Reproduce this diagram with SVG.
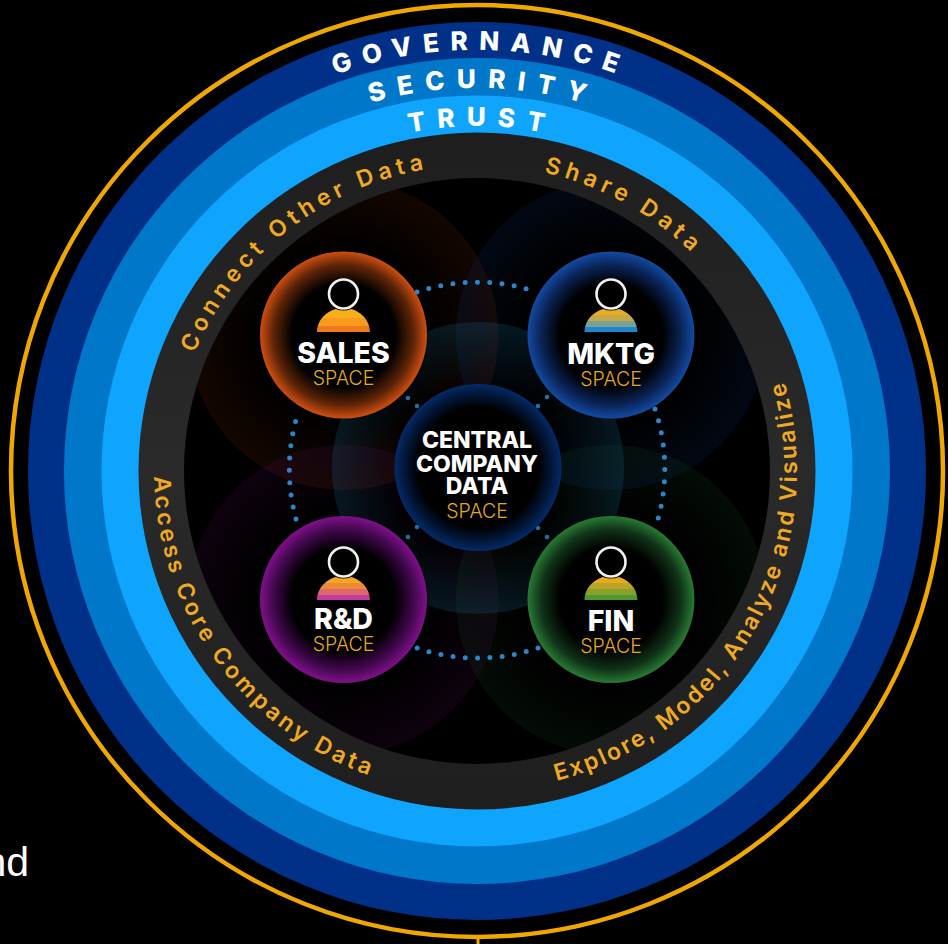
<svg xmlns="http://www.w3.org/2000/svg" xmlns:xlink="http://www.w3.org/1999/xlink" width="948" height="944" viewBox="0 0 948 944">
<style>
.band{font-family:Inter,"Liberation Sans",sans-serif;font-weight:800;font-size:26px;fill:#fff;text-anchor:middle}
.cap{font-family:Inter,"Liberation Sans",sans-serif;font-weight:600;font-size:23px;fill:#f0aa22;text-anchor:middle}
.name{font-family:Inter,"Liberation Sans",sans-serif;font-weight:800;font-size:28.500px;fill:#fff;text-anchor:middle}
.cname{font-family:Inter,"Liberation Sans",sans-serif;font-weight:800;font-size:23px;fill:#fff;text-anchor:middle}
.sp{font-family:Inter,"Liberation Sans",sans-serif;font-weight:300;font-size:19.500px;fill:#e6aa22;text-anchor:middle}
.head{fill:#000;stroke:#f2f2f2;stroke-width:2.6}
.dots{fill:none;stroke:#2a86c8;stroke-width:5;stroke-linecap:round;stroke-dasharray:0 12.3}
.dot{fill:#1f6fa6}
</style>
<defs>
<path id="topA" d="M477 892 A421 421 0 1 1 477.01 892"/>
<path id="topB" d="M477 854 A383 383 0 1 1 477.01 854"/>
<path id="topC" d="M477 816 A345 345 0 1 1 477.01 816"/>
<path id="capOut" d="M477 777 A306 306 0 1 1 477.01 777"/>
<path id="capIn" d="M477 148 A323 323 0 1 0 477.01 148"/>
<path id="capIn2" d="M477 151 A320 320 0 1 0 477.01 151"/>
<radialGradient id="gSales"><stop offset="0.62" stop-color="#000"/><stop offset="0.84" stop-color="#5e2408"/><stop offset="1" stop-color="#cf4e10"/></radialGradient>
<radialGradient id="gMktg"><stop offset="0.62" stop-color="#000"/><stop offset="0.84" stop-color="#0a2458"/><stop offset="1" stop-color="#134aa2"/></radialGradient>
<radialGradient id="gRd"><stop offset="0.62" stop-color="#000"/><stop offset="0.84" stop-color="#40084c"/><stop offset="1" stop-color="#80108a"/></radialGradient>
<radialGradient id="gFin"><stop offset="0.62" stop-color="#000"/><stop offset="0.84" stop-color="#103318"/><stop offset="1" stop-color="#287a33"/></radialGradient>
<radialGradient id="gCen"><stop offset="0.72" stop-color="#000"/><stop offset="0.9" stop-color="#021a40"/><stop offset="1" stop-color="#042a66"/></radialGradient>
<radialGradient id="hSales"><stop offset="0.55" stop-color="#c9410a" stop-opacity="0"/><stop offset="1" stop-color="#c9410a" stop-opacity="0.1"/></radialGradient>
<radialGradient id="hMktg"><stop offset="0.55" stop-color="#1450c0" stop-opacity="0"/><stop offset="1" stop-color="#1450c0" stop-opacity="0.1"/></radialGradient>
<radialGradient id="hRd"><stop offset="0.55" stop-color="#8a1296" stop-opacity="0"/><stop offset="1" stop-color="#8a1296" stop-opacity="0.1"/></radialGradient>
<radialGradient id="hFin"><stop offset="0.55" stop-color="#1f7a30" stop-opacity="0"/><stop offset="1" stop-color="#1f7a30" stop-opacity="0.1"/></radialGradient>
<radialGradient id="hCen"><stop offset="0.6" stop-color="#1a6a90" stop-opacity="0"/><stop offset="1" stop-color="#1a6a90" stop-opacity="0.22"/></radialGradient>
<linearGradient id="grey" x1="0" y1="0" x2="0" y2="1"><stop offset="0" stop-color="#1e1e1e"/><stop offset="0.5" stop-color="#2a2a2a"/><stop offset="1" stop-color="#1e1e1e"/></linearGradient>
<clipPath id="inner"><circle cx="477" cy="471" r="293"/></clipPath>
<clipPath id="dome"><path d="M-26.5 0 C-26 -14 -15 -21 -8 -23 Q0 -20 8 -23 C15 -21 26 -14 26.5 0 Z"/></clipPath>
</defs>
<rect width="948" height="944" fill="#000"/>
<g id="rings">
<circle cx="477" cy="471" r="466" fill="none" stroke="#f0a800" stroke-width="4.500"/>
<rect x="476.500" y="938" width="3" height="6" fill="#f0a800"/>
<circle cx="477" cy="471" r="449" fill="#003087"/>
<circle cx="477" cy="471" r="413" fill="#0077c8"/>
<circle cx="477" cy="471" r="375.500" fill="#0fa5ff"/>
<circle cx="477" cy="471" r="338.500" fill="url(#grey)"/>
<circle cx="477" cy="471" r="293" fill="#000"/>
</g>
<g id="halos" clip-path="url(#inner)">
<circle cx="343.500" cy="335" r="155" fill="url(#hSales)"/>
<circle cx="611" cy="335" r="155" fill="url(#hMktg)"/>
<circle cx="343.500" cy="600" r="155" fill="url(#hRd)"/>
<circle cx="611" cy="600" r="155" fill="url(#hFin)"/>
<circle cx="478" cy="468" r="146" fill="url(#hCen)"/>
</g>
<g id="band-labels">
<text class="band" style="letter-spacing:11px" transform="rotate(0.500 477 471)"><textPath href="#topA" startOffset="50%">GOVERNANCE</textPath></text>
<text class="band" style="letter-spacing:11.800px" transform="rotate(0.900 477 471)"><textPath href="#topB" startOffset="50%">SECURITY</textPath></text>
<text class="band" style="letter-spacing:11.500px" transform="rotate(0.800 477 471)"><textPath href="#topC" startOffset="50%">TRUST</textPath></text>
<text class="cap" style="letter-spacing:5.100px" transform="rotate(-38.200 477 471)"><textPath href="#capOut" startOffset="50%">Connect Other Data</textPath></text>
<text class="cap" style="letter-spacing:5.300px" transform="rotate(29 477 471)"><textPath href="#capOut" startOffset="50%">Share Data</textPath></text>
<text class="cap" style="letter-spacing:2.500px" transform="rotate(-60.500 477 471)"><textPath href="#capIn2" startOffset="50%">Explore, Model, Analyze and Visualize</textPath></text>
<text class="cap" style="letter-spacing:3.500px" transform="rotate(54 477 471)"><textPath href="#capIn" startOffset="50%">Access Core Company Data</textPath></text>
</g>
<g id="connectors">
<path class="dots" d="M417 292 A187.500 187.500 0 0 1 537 292"/>
<path class="dots" d="M655 409 A187.500 187.500 0 0 1 658 519"/>
<path class="dots" d="M538 648 A187.500 187.500 0 0 1 417 648"/>
<path class="dots" d="M296 519 A187.500 187.500 0 0 1 299 410"/>
<circle class="dot" cx="408" cy="398" r="2.300"/><circle class="dot" cx="417" cy="406" r="2.300"/>
<circle class="dot" cx="547" cy="397" r="2.300"/><circle class="dot" cx="538" cy="406" r="2.300"/>
<circle class="dot" cx="417" cy="527" r="2.300"/><circle class="dot" cx="408" cy="537" r="2.300"/>
<circle class="dot" cx="538" cy="528" r="2.300"/><circle class="dot" cx="547" cy="537" r="2.300"/>
</g>
<g id="node-sales">
<circle cx="343.500" cy="335" r="83.500" fill="url(#gSales)"/>
<g transform="translate(343.500 332)" clip-path="url(#dome)"><rect x="-27" y="-24" width="54" height="10" fill="#f9ae1c"/><rect x="-27" y="-14" width="54" height="8" fill="#f99a1c"/><rect x="-27" y="-6" width="54" height="6" fill="#ee7a1e"/></g>
<circle class="head" cx="343.500" cy="294" r="14.500"/>
<text class="name" x="343.500" y="362.500">SALES</text><text class="sp" x="343.500" y="384.500">SPACE</text>
</g>
<g id="node-mktg">
<circle cx="611" cy="335" r="83.500" fill="url(#gMktg)"/>
<g transform="translate(611 332)" clip-path="url(#dome)"><rect x="-27" y="-24" width="54" height="7" fill="#e8ac22"/><rect x="-27" y="-17" width="54" height="6" fill="#c5a84a"/><rect x="-27" y="-11" width="54" height="6" fill="#7aa090"/><rect x="-27" y="-5" width="54" height="5" fill="#1d86d0"/></g>
<circle class="head" cx="611" cy="294" r="14.500"/>
<text class="name" x="611" y="364">MKTG</text><text class="sp" x="611" y="385.500">SPACE</text>
</g>
<g id="node-rd">
<circle cx="343.500" cy="599.500" r="83.500" fill="url(#gRd)"/>
<g transform="translate(343.500 600)" clip-path="url(#dome)"><rect x="-27" y="-24" width="54" height="7" fill="#f5a81f"/><rect x="-27" y="-17" width="54" height="6" fill="#ef8a3a"/><rect x="-27" y="-11" width="54" height="6" fill="#dc6a6a"/><rect x="-27" y="-5" width="54" height="5" fill="#c53aa0"/></g>
<circle class="head" cx="343.500" cy="562" r="14.500"/>
<text class="name" x="343.500" y="629">R&amp;D</text><text class="sp" x="343.500" y="650.500">SPACE</text>
</g>
<g id="node-fin">
<circle cx="611" cy="599.500" r="83.500" fill="url(#gFin)"/>
<g transform="translate(611 600)" clip-path="url(#dome)"><rect x="-27" y="-24" width="54" height="7" fill="#e8ac1a"/><rect x="-27" y="-17" width="54" height="6" fill="#b8a528"/><rect x="-27" y="-11" width="54" height="6" fill="#8aa02c"/><rect x="-27" y="-5" width="54" height="5" fill="#4c9a30"/></g>
<circle class="head" cx="611" cy="562" r="14.500"/>
<text class="name" x="611" y="630.500">FIN</text><text class="sp" x="611" y="652.500">SPACE</text>
</g>
<g id="node-central">
<circle cx="478" cy="467.500" r="83.500" fill="url(#gCen)"/>
<text class="cname" x="477" y="448">CENTRAL</text><text class="cname" x="477" y="471.500">COMPANY</text><text class="cname" x="477" y="494">DATA</text><text class="sp" x="477" y="517.500">SPACE</text>
</g>
<text id="side-text" x="29" y="876" text-anchor="end" font-family="Liberation Sans, sans-serif" font-size="41" fill="#fff">nd</text>
</svg>
